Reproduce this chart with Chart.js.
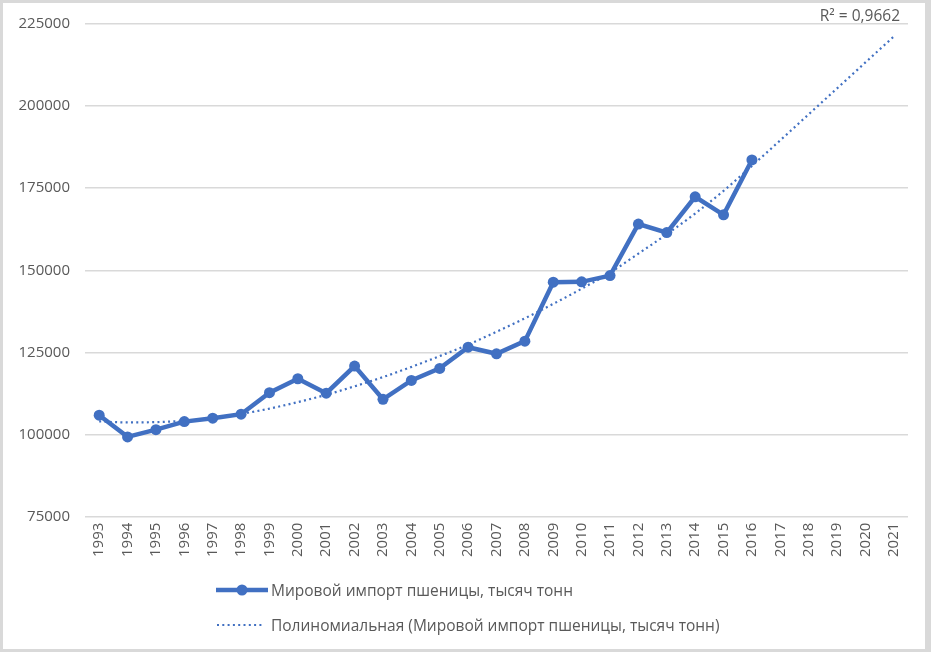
<!DOCTYPE html>
<html>
<head>
<meta charset="utf-8">
<script src="https://cdn.jsdelivr.net/npm/chart.js@4"></script>
<style>
  body { margin: 0; background: #ffffff; }
  #wrap { position: relative; width: 931px; height: 652px; font-family: "Open Sans", sans-serif; }
  #chart { position: absolute; left: 0; top: 0; }
  #frame { position: absolute; left: 0; top: 0; width: 931px; height: 652px; box-sizing: border-box;
           border: 3px solid #d9d9d9; border-right-width: 6px; pointer-events: none; }
  .leg { position: absolute; left: 216px; height: 20px; display: flex; align-items: center;
         font-size: 15.5px; color: #595959; white-space: nowrap; }
  .leg svg { margin-right: 3px; }
</style>
</head>
<body>
<div id="wrap">
  <canvas id="chart" width="931" height="652"></canvas>
  <div class="leg" style="top:580px;">
    <svg width="52" height="14"><line x1="0" y1="7" x2="52" y2="7" stroke="#4170c2" stroke-width="4.5"/><circle cx="26" cy="7" r="5.5" fill="#4170c2"/></svg>
    <span>Мировой импорт пшеницы, тысяч тонн</span>
  </div>
  <div class="leg" style="top:615px;">
    <svg width="52" height="14"><line x1="1" y1="7" x2="46" y2="7" stroke="#4170c2" stroke-width="2.2" stroke-dasharray="2 3.3"/></svg>
    <span>Полиномиальная (Мировой импорт пшеницы, тысяч тонн)</span>
  </div>
  <div id="frame"></div>
</div>
<script>
// --- Data ---
const years = ["1993", "1994", "1995", "1996", "1997", "1998", "1999", "2000", "2001", "2002",
               "2003", "2004", "2005", "2006", "2007", "2008", "2009", "2010", "2011", "2012",
               "2013", "2014", "2015", "2016", "2017", "2018", "2019", "2020", "2021"];

// world wheat imports, thousand tonnes (1993-2016)
const wheatImport = [105900, 99300, 101500, 103950, 105000, 106200, 112750, 117000, 112600, 120850,
                     110750, 116500, 120150, 126600, 124600, 128450, 146400, 146500, 148400, 164100,
                     161500, 172400, 166900, 183600];

// polynomial trend line (1993-2021)
const trendValues = [104000, 103700, 103800, 104200, 105000, 106300, 107900, 109900, 112100, 114700,
                     117500, 120600, 123900, 127400, 131300, 135400, 139800, 144400, 149300, 155100,
                     161000, 167300, 174200, 181800, 189600, 197500, 205400, 213300, 221200];

const yTicks = [75000, 100000, 125000, 150000, 175000, 200000, 225000];
const rSquaredLabel = "R² = 0,9662";

const blue = "#4170c2";
const textGrey = "#595959";
const gridGrey = "#d9d9d9";

// --- R² label plugin ---
const rSquaredPlugin = {
    id: "rSquared",
    afterDraw: function (chart) {
        var ctx = chart.ctx;
        ctx.save();
        ctx.font = "15.5px 'Open Sans', sans-serif";
        ctx.fillStyle = textGrey;
        ctx.textAlign = "right";
        ctx.textBaseline = "alphabetic";
        ctx.fillText(rSquaredLabel, 900, 21);
        ctx.restore();
    }
};

new Chart(document.getElementById("chart").getContext("2d"), {
    type: "line",
    data: {
        labels: years,
        datasets: [
            {
                label: "Мировой импорт пшеницы, тысяч тонн",
                data: wheatImport,
                borderColor: blue,
                backgroundColor: blue,
                borderWidth: 4.5,
                pointRadius: 5.5,
                pointBorderWidth: 0,
                tension: 0,
                order: 2
            },
            {
                label: "Полиномиальная (Мировой импорт пшеницы, тысяч тонн)",
                data: trendValues,
                borderColor: blue,
                borderWidth: 2.2,
                borderDash: [2, 3.3],
                pointRadius: 0,
                cubicInterpolationMode: "monotone",
                order: 1
            }
        ]
    },
    options: {
        responsive: false,
        animation: false,
        layout: { padding: { left: 0, right: 23, top: 22, bottom: 89 } },
        plugins: {
            legend: { display: false },
            tooltip: { enabled: false }
        },
        scales: {
            y: {
                min: yTicks[0],
                max: yTicks[yTicks.length - 1],
                afterBuildTicks: function (axis) {
                    axis.ticks = yTicks.map(function (v) { return { value: v }; });
                },
                afterFit: function (scale) {
                    // fixed axis width so the plot starts where the reference does
                    scale.width = 85;
                },
                border: { display: false },
                grid: { color: gridGrey, lineWidth: 1.5, drawTicks: false },
                ticks: {
                    color: textGrey,
                    padding: 15,
                    font: { family: "'Open Sans', sans-serif", size: 15 },
                    callback: function (v) { return String(v); }
                }
            },
            x: {
                offset: true,
                border: { display: false },
                grid: { display: false, drawTicks: false, offset: true },
                afterFit: function (scale) {
                    scale.paddingLeft = 0;
                    scale.paddingRight = 0;
                },
                ticks: {
                    color: textGrey,
                    padding: 6,
                    minRotation: 90,
                    maxRotation: 90,
                    autoSkip: false,
                    font: { family: "'Open Sans', sans-serif", size: 15 }
                }
            }
        }
    },
    plugins: [rSquaredPlugin]
});
</script>
</body>
</html>
